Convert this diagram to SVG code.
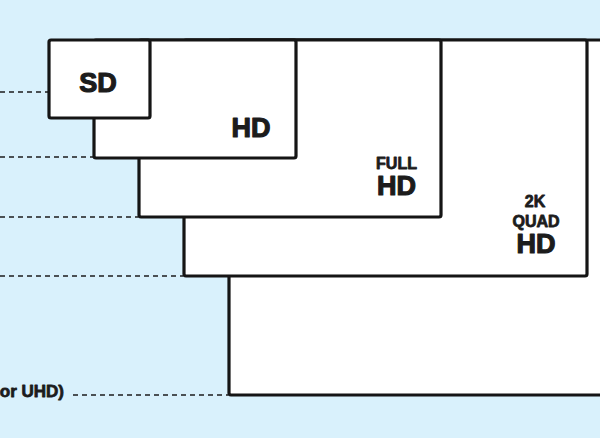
<svg xmlns="http://www.w3.org/2000/svg" width="600" height="438" viewBox="0 0 600 438">
  <style>
    .box { fill: #ffffff; stroke: #151515; stroke-width: 3.2; stroke-linejoin: round; }
    .lbl { font-family: "Liberation Sans", Arial, sans-serif; font-weight: bold; fill: #1c1c1c; stroke: #1c1c1c; stroke-linejoin: round; text-anchor: middle; }
    .big { font-size: 27px; stroke-width: 1.2; }
    .small { font-size: 16px; stroke-width: 0.8; }
    .dash { stroke: #1c1c1c; stroke-width: 1.6; stroke-dasharray: 5 4; fill: none; }
  </style>
  <rect x="0" y="0" width="600" height="438" fill="#d9f1fc"/>
  <g id="connectors">
    <line class="dash" x1="0" y1="92" x2="48" y2="92"/>
    <line class="dash" x1="0" y1="157" x2="93" y2="157"/>
    <line class="dash" x1="0" y1="217" x2="138" y2="217"/>
    <line class="dash" x1="0" y1="276" x2="183" y2="276"/>
    <line class="dash" x1="73" y1="395" x2="228" y2="395"/>
  </g>
  <g id="node-4k">
    <rect class="box" x="229" y="40" width="400" height="355" rx="2"/>
    <text class="lbl small" x="64" y="397" style="text-anchor:end;font-size:17px">or UHD)</text>
  </g>
  <g id="node-2k">
    <rect class="box" x="184" y="40" width="403" height="236" rx="2"/>
    <text class="lbl small" x="535" y="207">2K</text>
    <text class="lbl small" x="536" y="227">QUAD</text>
    <text class="lbl big" x="536" y="253">HD</text>
  </g>
  <g id="node-fullhd">
    <rect class="box" x="139" y="40" width="302" height="177" rx="2"/>
    <text class="lbl small" x="396.5" y="169">FULL</text>
    <text class="lbl big" x="396.5" y="195">HD</text>
  </g>
  <g id="node-hd">
    <rect class="box" x="94" y="40" width="202" height="118" rx="2"/>
    <text class="lbl big" x="251" y="137">HD</text>
  </g>
  <g id="node-sd">
    <rect class="box" x="49" y="40" width="101" height="78" rx="2"/>
    <text class="lbl big" x="98" y="92">SD</text>
  </g>
</svg>
